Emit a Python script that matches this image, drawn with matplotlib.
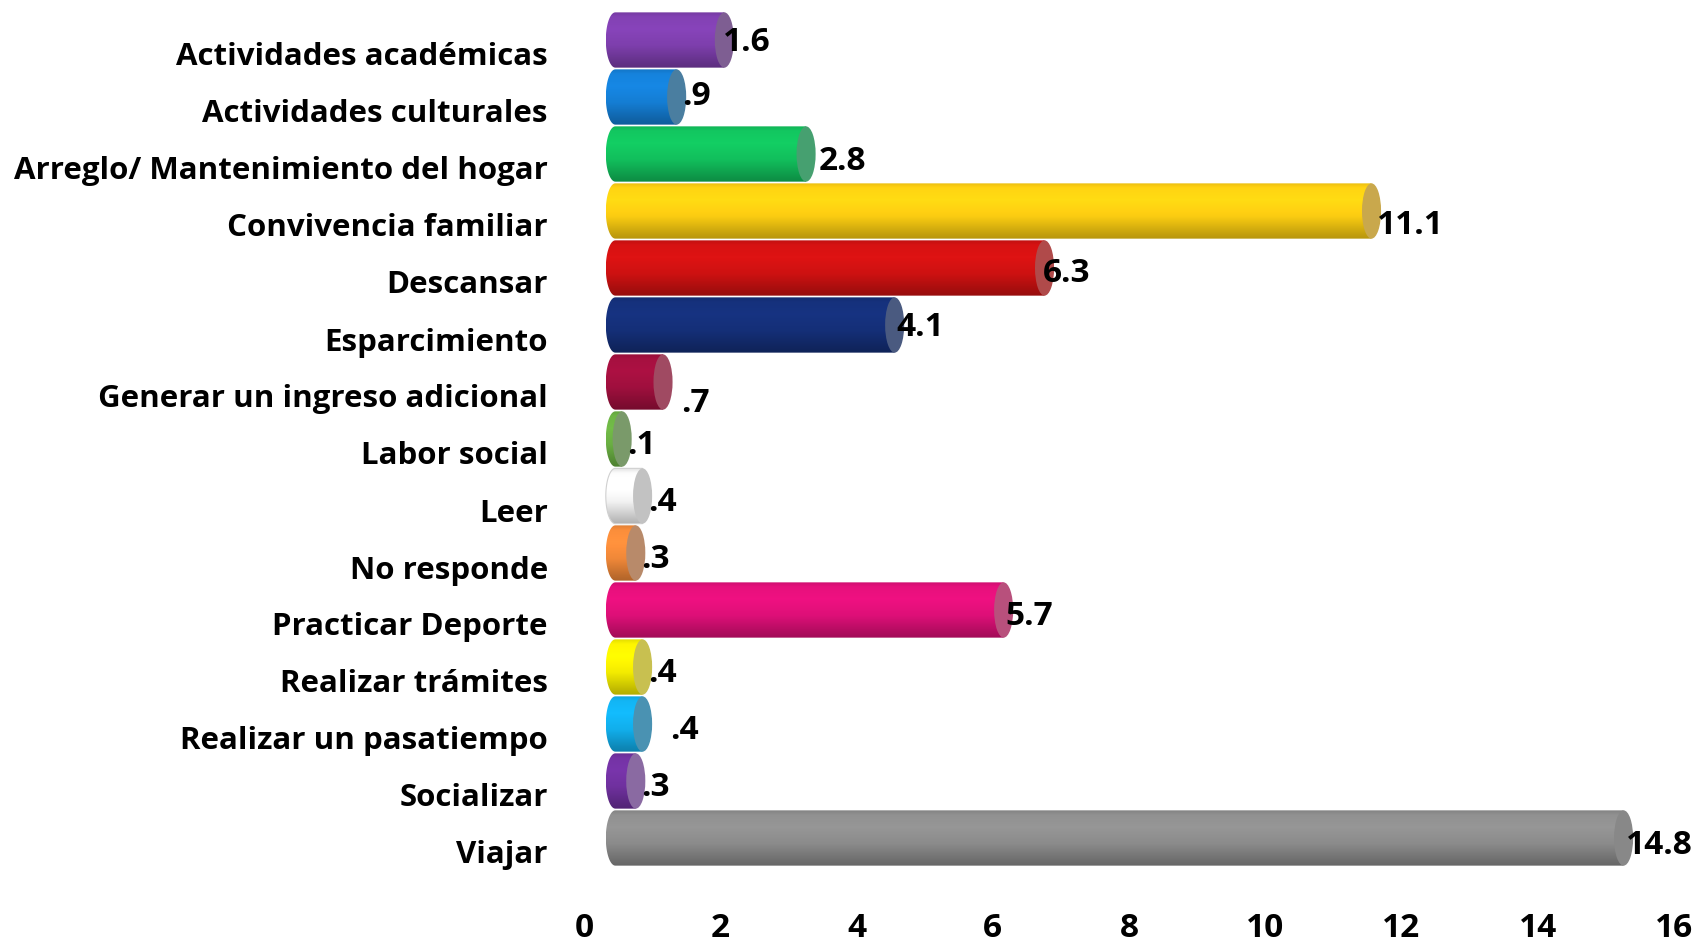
import numpy as np
import matplotlib
matplotlib.use("Agg")
import matplotlib.pyplot as plt
from matplotlib.path import Path
from matplotlib.patches import PathPatch, Ellipse
from matplotlib.transforms import ScaledTranslation
import matplotlib.colors as mcolors

categories = ["Actividades académicas", "Actividades culturales",
              "Arreglo/ Mantenimiento del hogar", "Convivencia familiar",
              "Descansar", "Esparcimiento", "Generar un ingreso adicional",
              "Labor social", "Leer", "No responde", "Practicar Deporte",
              "Realizar trámites", "Realizar un pasatiempo", "Socializar",
              "Viajar"]
values = [1.6, 0.9, 2.8, 11.1, 6.3, 4.1, 0.7, 0.1, 0.4, 0.3, 5.7, 0.4, 0.4, 0.3, 14.8]
value_labels = ["1.6", ".9", "2.8", "11.1", "6.3", "4.1", ".7", ".1", ".4", ".3",
                "5.7", ".4", ".4", ".3", "14.8"]
x_ticks = [0, 2, 4, 6, 8, 10, 12, 14, 16]

body_colors = ["#8040B0", "#1580D8", "#12C35E", "#FFD012", "#D21212", "#15307A",
               "#A3103F", "#6CB244", "#F7F7F7", "#F58B3A", "#E2107A", "#F8F000",
               "#12B2F0", "#7232A2", "#8E8E8E"]
cap_colors = ["#7E5E92", "#4A7EA0", "#46A070", "#C9A84C", "#B04A4A", "#4A5A80",
              "#A04A62", "#7A9A6A", "#C2C2C2", "#B88A6A", "#B8507C", "#C8C050",
              "#4A92B2", "#8A6AA2", "#888888"]
# label offsets (dx, dy) in data units
label_dx = [-0.1, 0.0, 0.1, 0.0, -0.1, -0.05, 0.18, 0.0, 0.0, 0.0, -0.05, 0.0, 0.32, 0.0, -0.05]
label_dy = [0.05, 0.0, 0.13, 0.25, 0.1, 0.05, 0.38, 0.12, 0.12, 0.12, 0.12, 0.12, 0.12, 0.12, 0.14]

FONT = ["Open Sans", "DejaVu Sans"]
W, H, DPI = 1708, 943, 100
fig = plt.figure(figsize=(W / DPI, H / DPI), dpi=DPI)
ax = fig.add_axes([584 / W, 1 - 895 / H, (1674 - 584) / W, (895 - 11.5) / H])
ax.set_xlim(0, 16)
ax.set_ylim(15.0, -0.5)
for s in ax.spines.values():
    s.set_visible(False)

x_start = 0.46   # centre of left rounded end
a = 0.14         # semi-axis of end ellipses (x data units)
bh = 0.97        # bar height


def shade(color, n=64):
    rgb = np.array(mcolors.to_rgb(color))
    t = np.linspace(0, 1, n)
    f = np.interp(t, [0, 0.08, 0.3, 0.6, 0.9, 1.0], [0.92, 1.02, 1.06, 0.98, 0.78, 0.72])
    out = np.clip(rgb[None, :] * f[:, None], 0, 1)
    return out[:, None, :]


for i, v in enumerate(values):
    yc = i
    xr = x_start + v
    ang = np.linspace(np.pi / 2, 3 * np.pi / 2, 40)
    lx = x_start + a * np.cos(ang)
    ly = yc - (bh / 2) * np.sin(ang)
    verts = list(zip(lx, ly))
    verts += [(xr, yc + bh / 2), (xr, yc - bh / 2), (lx[0], ly[0])]
    codes = [Path.MOVETO] + [Path.LINETO] * (len(verts) - 2) + [Path.CLOSEPOLY]
    path = Path(verts, codes)
    patch = PathPatch(path, facecolor="none", edgecolor="none")
    ax.add_patch(patch)
    img = ax.imshow(shade(body_colors[i]), extent=(x_start - a, xr, yc + bh / 2, yc - bh / 2),
                    aspect="auto", interpolation="bilinear", zorder=2)
    img.set_clip_path(patch)
    if body_colors[i] == "#F7F7F7":
        ax.add_patch(PathPatch(path, facecolor="none", edgecolor="#D0D0D0", lw=0.8, zorder=2.5))
    ax.add_patch(Ellipse((xr, yc), 2 * a, bh, facecolor=cap_colors[i], edgecolor="none", zorder=3))
    ax.text(xr + 0.08 + label_dx[i], yc + label_dy[i], value_labels[i], ha="left", va="center",
            fontsize=24, fontweight="bold", family=FONT, color="black", zorder=4)

ax.set_yticks(range(len(categories)))
ax.set_yticklabels(categories, fontsize=22.5, fontweight="bold", family=FONT)
ax.tick_params(axis="y", length=0, pad=26)
off = ScaledTranslation(0, -14 / DPI, fig.dpi_scale_trans)
for lab in ax.get_yticklabels():
    lab.set_transform(lab.get_transform() + off)

ax.set_xticks(x_ticks)
ax.set_xticklabels([str(t) for t in x_ticks], fontsize=24, fontweight="bold", family=FONT)
ax.tick_params(axis="x", length=0, pad=12)

fig.savefig("out.png", dpi=DPI)
